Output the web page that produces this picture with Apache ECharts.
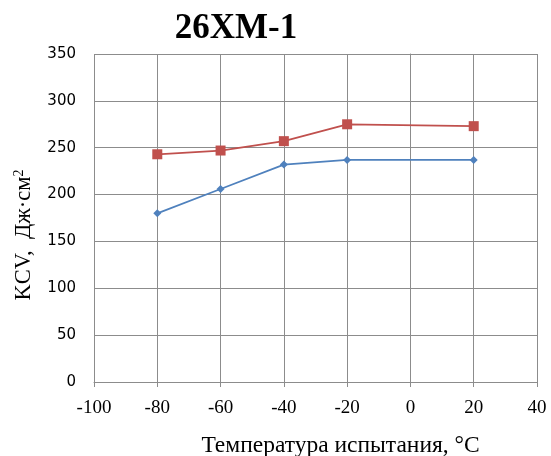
<!DOCTYPE html>
<html>
<head>
<meta charset="utf-8">
<script src="https://cdn.jsdelivr.net/npm/echarts@6/dist/echarts.min.js"></script>
<style>
  html, body { margin: 0; padding: 0; background: #fff; }
  #chart { width: 551px; height: 456px; }
</style>
</head>
<body>
<div id="chart"></div>
<script>
// Test temperatures, °C
const temperatures = [-80, -60, -40, -20, 20];
// Impact toughness KCV, J/cm²
const kcvUpper = [243, 247, 257, 275, 273];
const kcvLower = [180, 206, 232, 237, 237];

const xTicks = { min: -100, max: 40, interval: 20 };
const yTicks = { min: 0, max: 350, interval: 50 };

const chart = echarts.init(document.getElementById('chart'));
const serif = '"Liberation Serif", "Times New Roman", serif';
const gridColor = '#8c8c8c';

chart.setOption({
  animation: false,
  backgroundColor: '#ffffff',
  title: {
    text: '26XM-1',
    left: 231,
    top: 6,
    textAlign: 'center',
    textStyle: { fontFamily: serif, fontWeight: 'bold', fontSize: 35, color: '#000' }
  },
  grid: { left: 94, right: 14, top: 54, bottom: 74, outerBoundsMode: 'none' },
  xAxis: {
    type: 'value',
    min: xTicks.min, max: xTicks.max, interval: xTicks.interval,
    axisLine: { show: true, onZero: false, lineStyle: { color: gridColor, width: 1 } },
    axisTick: { show: true, length: 5, lineStyle: { color: gridColor } },
    splitLine: { show: true, lineStyle: { color: gridColor, width: 1 } },
    axisLabel: { fontFamily: serif, fontSize: 19, color: '#000', margin: 17 },
    name: 'Температура испытания, °C',
    nameLocation: 'middle',
    nameGap: 52,
    nameTextStyle: { fontFamily: serif, fontSize: 23.5, color: '#000', padding: [0, 0, 0, 50] }
  },
  yAxis: {
    type: 'value',
    min: yTicks.min, max: yTicks.max, interval: yTicks.interval,
    axisLine: { show: true, lineStyle: { color: gridColor, width: 1 } },
    axisTick: { show: true, length: 4, lineStyle: { color: gridColor } },
    splitLine: { show: true, lineStyle: { color: gridColor, width: 1 } },
    axisLabel: { fontFamily: '"DejaVu Sans", sans-serif', fontSize: 15, color: '#000', margin: 18 },
    name: '{a|KCV,  Дж·см}{s|2}',
    nameLocation: 'middle',
    nameGap: 58,
    nameTextStyle: {
      padding: [0, 34, 0, 0],
      rich: {
        a: { fontFamily: serif, fontSize: 22.5, color: '#000' },
        s: { fontFamily: serif, fontSize: 14, color: '#000', verticalAlign: 'top', padding: [0, 0, 10, 0] }
      }
    }
  },
  series: [
    {
      name: 'upper',
      type: 'line',
      data: temperatures.map((t, i) => [t, kcvUpper[i]]),
      symbol: 'rect',
      symbolSize: 10,
      itemStyle: { color: '#C0504D' },
      lineStyle: { color: '#C0504D', width: 1.75 }
    },
    {
      name: 'lower',
      type: 'line',
      data: temperatures.map((t, i) => [t, kcvLower[i]]),
      symbol: 'diamond',
      symbolSize: 8,
      itemStyle: { color: '#4F81BD' },
      lineStyle: { color: '#4F81BD', width: 1.75 }
    }
  ]
});
</script>
</body>
</html>
